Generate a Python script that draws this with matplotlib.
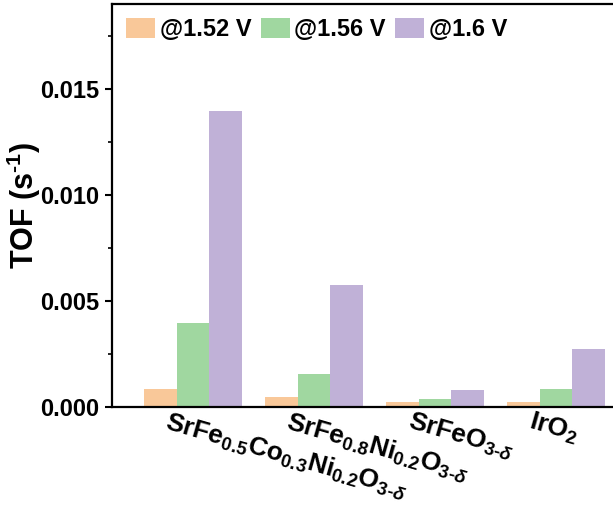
import numpy as np
import matplotlib
matplotlib.use('Agg')
from matplotlib import pyplot as plt
from matplotlib import transforms
from matplotlib.ticker import MultipleLocator

plt.rcParams['font.family'] = ['Liberation Sans', 'DejaVu Sans']
plt.rcParams['font.weight'] = 'bold'
plt.rcParams['mathtext.fontset'] = 'custom'
plt.rcParams['mathtext.rm'] = 'Liberation Sans:bold'
plt.rcParams['mathtext.bf'] = 'Liberation Sans:bold'
plt.rcParams['mathtext.it'] = 'Liberation Sans:italic:bold'
plt.rcParams['mathtext.sf'] = 'Liberation Sans:bold'

#data
catalysts = [
    r'SrFe$_{\mathit{0.5}}$Co$_{\mathit{0.3}}$Ni$_{\mathit{0.2}}$O$_{\mathit{3\text{-}\delta}}$',
    r'SrFe$_{\mathit{0.8}}$Ni$_{\mathit{0.2}}$O$_{\mathit{3\text{-}\delta}}$',
    r'SrFeO$_{\mathit{3\text{-}\delta}}$',
    r'IrO$_{\mathit{2}}$',
]
potentials = ['@1.52 V', '@1.56 V', '@1.6 V']
tof_152 = [0.00085, 0.00047, 0.00024, 0.00024]
tof_156 = [0.00396, 0.00156, 0.00038, 0.00085]
tof_160 = [0.01396, 0.00575, 0.00080, 0.00274]
colors = ['#F9C899', '#A0D7A0', '#C0B1D7']

fig = plt.figure(figsize=(6.13, 5.08), dpi=100)
ax = fig.add_axes([0.1827, 0.1988, 0.8173, 0.7934])

x = np.arange(len(catalysts))
width = 0.27
for i, (vals, lab, col) in enumerate(zip([tof_152, tof_156, tof_160], potentials, colors)):
    ax.bar(x + (i - 1) * width, vals, width=width, color=col, label=lab, edgecolor='none')

ax.set_xlim(-0.669, 3.471)
ax.set_ylim(0, 0.019)
ax.yaxis.set_major_locator(MultipleLocator(0.005))
ax.yaxis.set_minor_locator(MultipleLocator(0.0025))
ax.yaxis.set_major_formatter(matplotlib.ticker.FormatStrFormatter('%.3f'))

for side in ['left', 'bottom', 'top']:
    ax.spines[side].set_linewidth(1.6)
ax.spines['right'].set_visible(False)

ax.tick_params(axis='y', which='major', direction='out', length=5, width=1.5, labelsize=17, pad=4)
ax.tick_params(axis='y', which='minor', direction='out', length=3, width=1.2)
ax.tick_params(axis='x', length=0, pad=3)

ax.set_xticks(x)
ax.set_xticklabels(catalysts, fontsize=19, rotation=-16, ha='left', va='top', rotation_mode='anchor')
offset = transforms.ScaledTranslation(-0.23, 0.02, fig.dpi_scale_trans)
for lbl in ax.get_xticklabels():
    lbl.set_transform(lbl.get_transform() + offset)

ax.set_ylabel(r'TOF (s$^{\text{-}1}$)', fontsize=22, fontweight='bold', labelpad=-2)

ax.legend(loc='upper left', ncol=3, frameon=False, fontsize=17,
          handlelength=1.23, handleheight=0.93, handletextpad=0.2,
          columnspacing=0.38, borderaxespad=0.3, borderpad=0.3)

fig.savefig('out.png', dpi=100)
